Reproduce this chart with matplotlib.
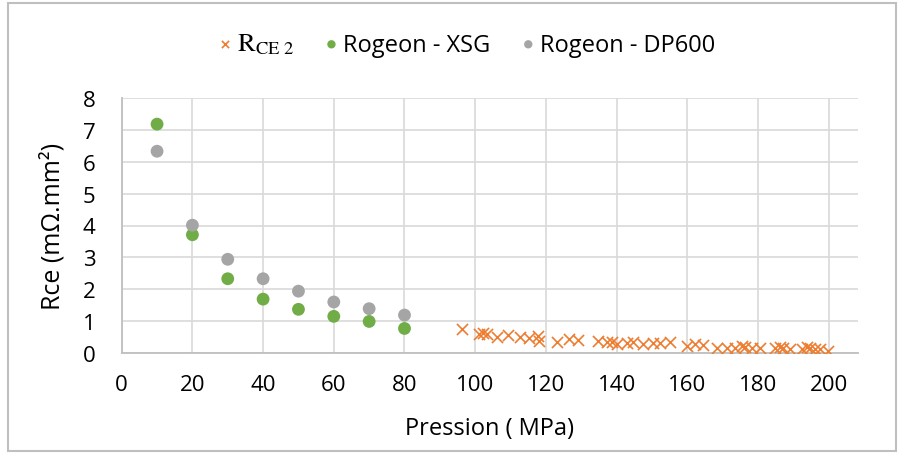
import matplotlib
matplotlib.use("Agg")
import matplotlib.pyplot as plt
from matplotlib.patches import Rectangle

# ---- data ----
xsg_x = [10, 20, 30, 40, 50, 60, 70, 80]
xsg_y = [7.18, 3.71, 2.33, 1.69, 1.37, 1.15, 0.99, 0.77]
dp_x = [10, 20, 30, 40, 50, 60, 70, 80]
dp_y = [6.33, 4.01, 2.94, 2.33, 1.94, 1.60, 1.39, 1.19]
rce_x = [96.2, 101.2, 102.3, 103.2, 106.3, 109.4, 112.7, 115.3, 117.9, 118.1,
         123.2, 126.6, 129.2, 134.8, 137.2, 138.6, 140.0, 142.9, 144.7, 147.6,
         150.4, 152.3, 155.1, 159.8, 162.2, 164.5, 168.3, 171.1, 173.5, 175.4,
         176.3, 178.2, 180.6, 184.8, 186.2, 187.2, 189.1, 192.4, 193.8, 194.7,
         196.1, 197.5, 199.9]
rce_y = [0.75, 0.60, 0.62, 0.60, 0.49, 0.56, 0.49, 0.47, 0.54, 0.39,
         0.33, 0.44, 0.42, 0.39, 0.36, 0.33, 0.28, 0.31, 0.33, 0.28,
         0.31, 0.31, 0.33, 0.21, 0.28, 0.26, 0.15, 0.15, 0.15, 0.21,
         0.18, 0.15, 0.16, 0.16, 0.20, 0.16, 0.13, 0.13, 0.18, 0.15,
         0.11, 0.11, 0.05]
x_ticks = [0, 20, 40, 60, 80, 100, 120, 140, 160, 180, 200]
y_ticks = [0, 1, 2, 3, 4, 5, 6, 7, 8]

plt.rcParams['font.family'] = ['Open Sans', 'DejaVu Sans']
plt.rcParams['mathtext.fontset'] = 'stix'

fig = plt.figure(figsize=(9.04, 4.56), dpi=100)
fig.patches.append(Rectangle((8/904, 4/456), 888/904, 448/456, transform=fig.transFigure,
                             fill=False, edgecolor='#BFBFBF', linewidth=1.5))
ax = fig.add_axes([121.7/904, 1-354/456, (858-121.7)/904, (354-99)/456])

ax.scatter(rce_x, rce_y, marker='x', s=64, color='#ED7D31', linewidths=1.2,
           label=r'$\mathrm{R}_{\mathrm{CE\ 2}}$', zorder=3)
ax.scatter(xsg_x, xsg_y, marker='o', s=85, color='#70AD47', edgecolors='none',
           label='Rogeon - XSG', zorder=3)
ax.scatter(dp_x, dp_y, marker='o', s=85, color='#A5A5A5', edgecolors='none',
           label='Rogeon - DP600', zorder=3)

ax.set_xlim(0, (858-121.7)/3.535)
ax.set_ylim(0, 8)
ax.set_xticks(x_ticks)
ax.set_yticks(y_ticks)
ax.grid(True, color='#D9D9D9', linewidth=1.2)
ax.set_axisbelow(True)
for s in ['top', 'right']:
    ax.spines[s].set_visible(False)
for s in ['left', 'bottom']:
    ax.spines[s].set_color('#BFBFBF')
    ax.spines[s].set_linewidth(1.3)
ax.tick_params(length=0, labelsize=16, colors='#000000')
ax.tick_params(axis='x', pad=15)
ax.tick_params(axis='y', pad=19)
ax.set_xlabel('Pression ( MPa)', fontsize=17, labelpad=15)
ax.set_ylabel('Rce (mΩ.mm²)', fontsize=18, labelpad=12)

leg = fig.legend(loc='center', bbox_to_anchor=(0.5155, 1-45/456), ncol=3, frameon=False,
                 fontsize=17, handletextpad=0.15, columnspacing=1.25, markerscale=0.65,
                 handlelength=0.7)
leg.get_texts()[0].set_fontsize(19)

fig.savefig('out.png', dpi=100)
